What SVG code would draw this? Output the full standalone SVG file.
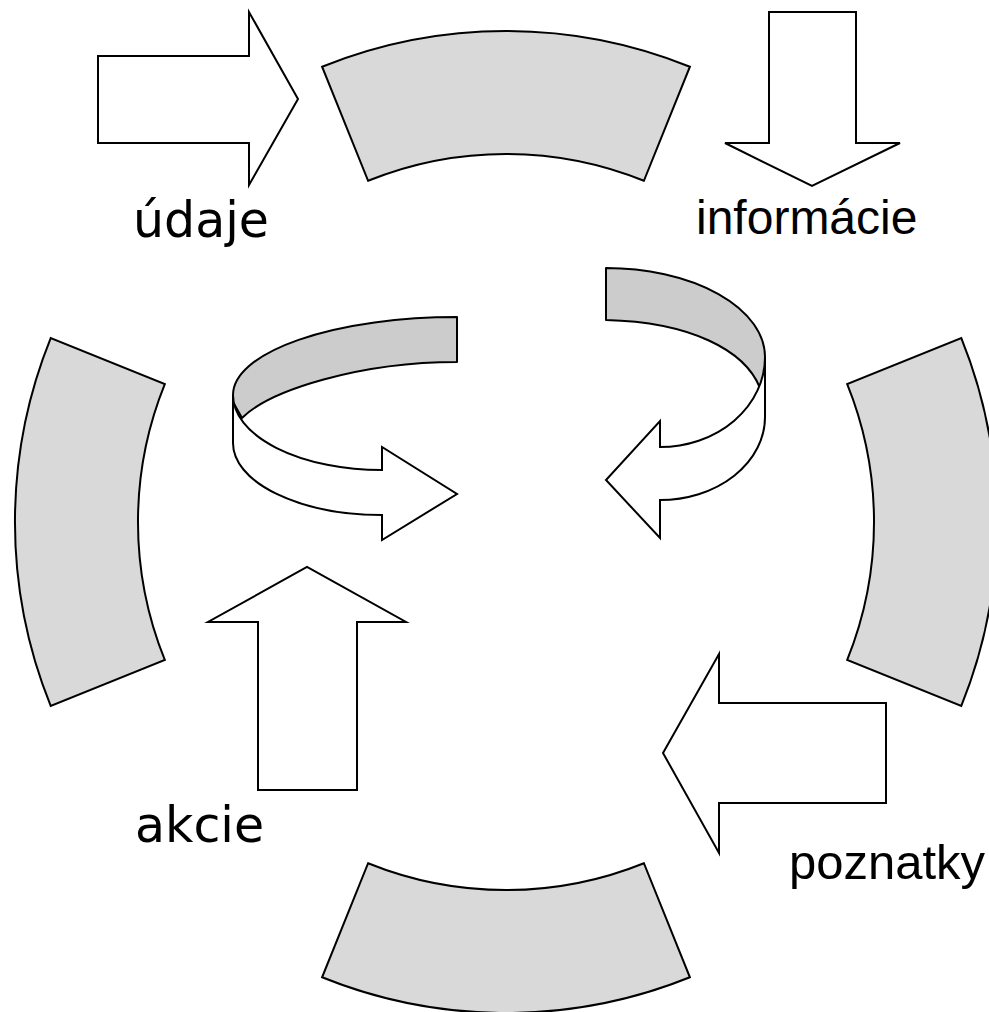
<svg xmlns="http://www.w3.org/2000/svg" width="989" height="1012" viewBox="0 0 989 1012">
<style>
.seg{fill:#d9d9d9;stroke:#000;stroke-width:2;stroke-linejoin:miter}
.arr{fill:#fff;stroke:#000;stroke-width:2;stroke-linejoin:miter}
.rib{fill:#cccccc;stroke:#000;stroke-width:2;stroke-linejoin:round}
.ribw{fill:#fff;stroke:#000;stroke-width:2;stroke-linejoin:miter}
.tv{font-family:"DejaVu Sans",Verdana,sans-serif;font-size:49px;fill:#000}
.ta{font-family:"Liberation Sans",Arial,sans-serif;font-size:48px;fill:#000}
</style>
<rect width="989" height="1012" fill="#fff"/>
<g id="seg-top"><path class="seg" d="M322.1 66.7 A491 491 0 0 1 689.9 66.7 L643.9 180.8 A368 368 0 0 0 368.1 180.8 Z"/></g>
<g id="seg-right"><path class="seg" d="M961.3 338.1 A491 491 0 0 1 961.3 705.9 L847.2 659.9 A368 368 0 0 0 847.2 384.1 Z"/></g>
<g id="seg-bottom"><path class="seg" d="M689.9 977.3 A491 491 0 0 1 322.1 977.3 L368.1 863.2 A368 368 0 0 0 643.9 863.2 Z"/></g>
<g id="seg-left"><path class="seg" d="M50.7 705.9 A491 491 0 0 1 50.7 338.1 L164.8 384.1 A368 368 0 0 0 164.8 659.9 Z"/></g>
<g id="arrow-udaje"><path class="arr" d="M98 56 L249 56 L249 12 L298 99 L249 185 L249 143 L98 143 Z"/></g>
<g id="arrow-informacie"><path class="arr" d="M769 12 L856 12 L856 143 L900 143 L812 186 L725 143 L769 143 Z"/></g>
<g id="arrow-poznatky"><path class="arr" d="M886 703 L886 803 L719 803 L719 853 L663 753 L719 654 L719 703 Z"/></g>
<g id="arrow-akcie"><path class="arr" d="M258 790 L258 622 L208 622 L307 567 L406 622 L357 622 L357 790 Z"/></g>
<g id="cycle-left">
<path class="rib" d="M457 317 A224 78 0 0 0 233 395 L233 402 L242 418 C270 390 360 362 457 362 Z"/>
<path class="ribw" d="M233 395 A149 75 0 0 0 382 470 L382 447 L457 494 L382 540 L382 515 A149 72 0 0 1 233 443 Z"/>
</g>
<g id="cycle-right">
<path class="rib" d="M606 268 A159 89 0 0 1 765 357 L765 395 L760 388 C745 350 690 322 606 320 Z"/>
<path class="ribw" d="M765 357 A105 90 0 0 1 660 447 L660 421 L606 480 L660 538 L660 500 A105 83 0 0 0 765 417 Z"/>
</g>
<g id="labels">
<text class="tv" x="133" y="237">údaje</text>
<text class="ta" x="696" y="234">informácie</text>
<text class="tv" x="135" y="842">akcie</text>
<text class="ta" x="789" y="879" style="font-size:49px">poznatky</text>
</g>
</svg>
